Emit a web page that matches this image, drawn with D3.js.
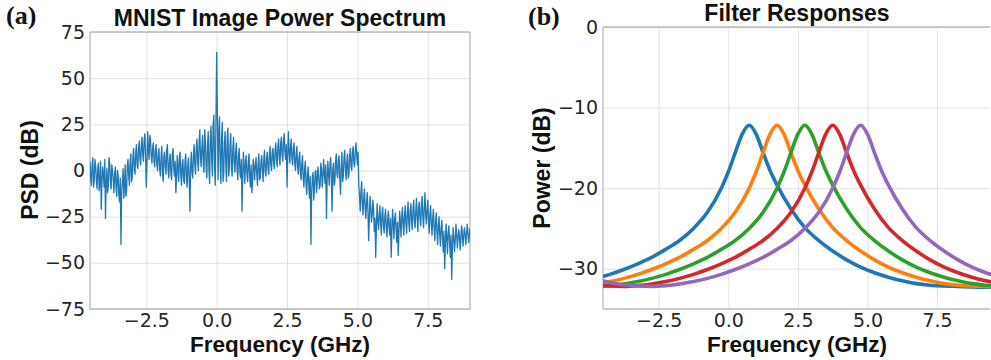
<!DOCTYPE html>
<html>
<head>
<meta charset="utf-8">
<script src="https://cdn.jsdelivr.net/npm/d3@7"></script>
<style>
  html, body { margin: 0; padding: 0; background: #fff; }
  svg { display: block; }
  .tick text { font-family: "DejaVu Sans", sans-serif; font-size: 19px; fill: #262626; }
  .lbl { font-family: "Liberation Sans", Arial, sans-serif; font-weight: bold; font-size: 23px; fill: #111; }
  .xlbl { font-size: 22.5px; }
  .tag { font-family: "Liberation Serif", "Times New Roman", serif; font-weight: bold; font-size: 26px; fill: #111; }
</style>
</head>
<body>
<svg id="chart" width="991" height="360"></svg>
<script>
// ---- (a) MNIST Image Power Spectrum : PSD samples every 0.05 GHz from -4.5 GHz ----
const psdStart = -4.5;
const psdStep = 0.05;
const psdValues = [
  5, -8, 7, -6, 3, -10, 4, -7, -21, 2, -9, -26, 1, -8, 4, -10, 0,          // -4.50 .. -3.70
  -12, 2, -14, -3, -17, -40, -6, -15, 3, -11,                               // -3.65 .. -3.20
  6, -8, 9, -4, 12, -2, 14, 1, 16, 3, 18, 5, 20, -9, 21, 6, 17, 4,          // -3.15 .. -2.30
  15, 2, 14, 0, 12, -3, 13, -6, 10, -2, 14, -4, 9, -5, 12, -3, -12, 8, -6, 10, -8, 6,  // -2.25 .. -1.20
  -7, 9, -9, 7, -22, 10, -4, 14, -2, 17, 0, 22, 2,                          // -1.15 .. -0.55
  19, -1, 16, -4, 21, -7, 24, -3, 30, -8, 64, -5, 29, -7, 26, -2, 21, -6, 23, 1, 20,  // -0.50 .. 0.50
  -3, 18, -1, 15, -5, 12, -4, -22, 10, -7, 8, -6, 9, -9, -12, 6,            // 0.55 .. 1.30
  -5, 7, -8, 9, -4, 8, -6, 11, -3, 10, -2, 13, 0, 12, 1, 15, 2, 17, 3, 18, 5, 20,  // 1.35 .. 2.40
  6, -9, 21, 4, 17, 3, 15, 0, 13, -2, 10, -5, 8, -9, 5, -13, 2,             // 2.45 .. 3.25
  -15, -40, -4, -16, -1, -12, 2, -10, 4, -9,                                // 3.30 .. 3.75
  6, -7, -26, 5, -8, 7, -22, 4, -6, 9, -4, 8, -13, 10, -3, 11, -5, 9, -2, 12, 0, 13, 2, 15,  // 3.80 .. 4.95
  3, -8, -22, -6, -24, -10, -26, -12, -38, -14, -28, -16, -33, -47, -18, -32, -19, -35, -20, -34,  // 5.00 .. 5.95
  -21, -36, -22, -35, -47, -21, -37, -23, -39, -46, -22, -36, -20, -35, -19, -34, -17, -33, -18,  // 6.00 .. 6.90
  -32, -16, -31, -15, -33, -17, -30, -14, -31, -12, -29, -16, -34, -19,     // 6.95 .. 7.60
  -35, -21, -38, -23, -40, -25, -41, -27, -44, -53, -29, -45, -30, -47, -59, -31, -44, -29, -42, -32, -43, -30, -41, -31, -40, -29, -39, -31  // 7.65 .. 9.00
];
// 중간 샘플 (각 샘플 사이 +0.025 GHz 지점)
const psdValuesMid = [
  -4, 3, -9, 6, -5, 1, -11, 5, -6, -3, 6, -7, -12, 7, -6, 3, -5,            // -4.475 .. -3.675
  -2, -9, 0, -13, -4, -11, 1, -8, -14, 2,                                   // -3.625 .. -3.175
  -3, 5, -6, 8, 0, 10, 3, 12, 6, 14, 8, 17, 9, 4, 11, 19, 8, 12,            // -3.125 .. -2.275
  5, 11, 3, 9, 1, 7, -1, 8, 2, 11, 0, 6, -2, 9, 2, 5, -4, 1, 7, -3, 4, -5,  // -2.225 .. -1.175
  5, -4, 3, -6, 2, -1, 9, 3, 12, 5, 15, 7, 13,                              // -1.125 .. -0.525
  4, 22, 2, 14, 0, 18, 5, 25, 2, 27, 31, 20, 4, 17, -6, 15, 3, 18, -3, 14, 2,  // -0.475 .. 0.525
  12, 4, 10, 1, 8, -1, 6, -3, 2, 5, -2, 4, -4, 3, -6, 2,                    // 0.575 .. 1.325
  3, -2, 4, -5, 5, 0, 6, -1, 7, 1, 9, 3, 10, 4, 11, 6, 13, 7, 15, 8, 16, 10,  // 1.375 .. 2.425
  14, 8, 10, 13, 6, 12, 4, 9, 2, 7, -1, 4, -4, 1, -7, -2, -9,               // 2.475 .. 3.275
  -3, -12, -1, -10, 0, -6, -3, -8, 1, -4,                                   // 3.325 .. 3.775
  -1, 3, -5, -2, 3, -4, 1, -8, 5, -2, 6, -5, 2, -6, 7, 0, 5, -4, 8, 2, 10, 4, 11, 8,  // 3.825 .. 4.975
  10, -14, -12, -18, -15, -20, -17, -22, -25, -20, -24, -21, -26, -30, -27, -24, -29, -23, -30, -25,  // 5.025 .. 5.975
  -30, -27, -31, -26, -33, -29, -26, -32, -28, -34, -28, -25, -30, -24, -29, -23, -28, -22, -27,  // 6.025 .. 6.925
  -21, -27, -22, -26, -20, -26, -19, -25, -20, -24, -21, -27, -24, -29,     // 6.975 .. 7.625
  -26, -31, -28, -33, -30, -35, -31, -37, -33, -40, -36, -34, -39, -35, -42, -36, -38, -34, -37, -35, -38, -33, -36, -34, -35, -33, -36  // 7.675 .. 8.975
];

const psdXTicks = [-2.5, 0, 2.5, 5, 7.5];
const psdYTicks = [-75, -50, -25, 0, 25, 50, 75];

// ---- (b) Filter Responses : one response shape (offset GHz, dB) and filter centers ----
const filterCenters = [0.75, 1.75, 2.75, 3.75, 4.75];
const filterColors = ["#1f77b4", "#ff7f0e", "#2ca02c", "#d62728", "#9467bd"];
const profileOffset = [-9.5, -9, -8.5, -8, -7.5, -7, -6.5, -6, -5.5, -5, -4.5, -4, -3.5, -3, -2.5, -2, -1.5, -1, -0.75, -0.5, -0.25,
  0, 0.25, 0.5, 0.75, 1, 1.5, 2, 2.5, 3, 3.5, 4, 4.5, 5, 5.5, 6, 6.5, 7, 7.5, 8, 9];
const profileDb = [-31.3, -31.7, -32.0, -32.15, -32.2, -32.1, -31.9, -31.6, -31.2, -30.7, -30.1, -29.4, -28.6, -27.6, -26.5, -25.0, -23.0, -20.0, -18.0, -15.6, -13.3,
  -12.2, -13.3, -15.6, -17.8, -19.6, -22.6, -24.9, -26.5, -27.8, -28.9, -29.8, -30.5, -31.05, -31.5, -31.85, -32.05, -32.15, -32.2, -32.25, -32.3];

const filterXTicks = [-2.5, 0, 2.5, 5, 7.5];
const filterYTicks = [0, -10, -20, -30];

const svg = d3.select("#chart");
const defs = svg.append("defs");

// 패널 공통: 그리드 + 축 + 테두리
function drawFrame(g, x, y, xTicks, yTicks, yFmt, spines) {
  const [x0, x1] = x.range();
  const [y1, y0] = y.range();
  const w = x1 - x0, h = y1 - y0;

  const xa = g.append("g")
    .attr("transform", `translate(0,${y1})`)
    .call(d3.axisBottom(x).tickValues(xTicks).tickFormat(d3.format(".1f"))
      .tickSizeInner(-h).tickSizeOuter(0).tickPadding(4));
  const ya = g.append("g")
    .attr("transform", `translate(${x0},0)`)
    .call(d3.axisLeft(y).tickValues(yTicks).tickFormat(yFmt)
      .tickSizeInner(-w).tickSizeOuter(0).tickPadding(5));
  [xa, ya].forEach(a => {
    a.select(".domain").remove();
    a.selectAll(".tick line").attr("stroke", "#e2e2e2").attr("stroke-width", 1);
  });

  const sp = g.append("g").attr("stroke", "#b8b8b8").attr("stroke-width", 1.3).attr("fill", "none");
  if (spines.left) sp.append("line").attr("x1", x0).attr("x2", x0).attr("y1", y0).attr("y2", y1);
  if (spines.bottom) sp.append("line").attr("x1", x0).attr("x2", x1).attr("y1", y1).attr("y2", y1);
  if (spines.top) sp.append("line").attr("x1", x0).attr("x2", x1).attr("y1", y0).attr("y2", y0);
  if (spines.right) sp.append("line").attr("x1", x1).attr("x2", x1).attr("y1", y0).attr("y2", y1);
}

// ===== (a) =====
const xA = d3.scaleLinear().domain([-4.5, 9]).range([90, 470]);
const yA = d3.scaleLinear().domain([-75, 75]).range([309, 32]);
const gA = svg.append("g");
drawFrame(gA, xA, yA, psdXTicks, psdYTicks, d3.format("d"), { left: true, bottom: true, top: true, right: true });

defs.append("clipPath").attr("id", "clipA").append("rect")
  .attr("x", 90).attr("y", 32).attr("width", 380).attr("height", 277);

// 샘플 + 중간 샘플을 주파수 순서대로 합침
const psdPoints = [];
psdValues.forEach((v, i) => {
  const f = psdStart + i * psdStep;
  psdPoints.push([f, v]);
  if (i < psdValuesMid.length) psdPoints.push([f + psdStep / 2, psdValuesMid[i]]);
});

gA.append("path")
  .datum(psdPoints)
  .attr("clip-path", "url(#clipA)")
  .attr("fill", "none")
  .attr("stroke", "#1f77b4")
  .attr("stroke-width", 1.3)
  .attr("stroke-linejoin", "round")
  .attr("d", d3.line().x(d => xA(d[0])).y(d => yA(d[1])));

gA.append("text").attr("class", "lbl").attr("x", 280).attr("y", 26).attr("text-anchor", "middle")
  .text("MNIST Image Power Spectrum");
gA.append("text").attr("class", "lbl xlbl").attr("x", 280).attr("y", 352).attr("text-anchor", "middle")
  .text("Frequency (GHz)");
gA.append("text").attr("class", "lbl").attr("transform", "translate(38,170) rotate(-90)").attr("text-anchor", "middle")
  .text("PSD (dB)");
gA.append("text").attr("class", "tag").attr("x", 6).attr("y", 24).text("(a)");

// ===== (b) =====
const xB = d3.scaleLinear().domain([-4.5, 9.4]).range([603, 990]);
const yB = d3.scaleLinear().domain([-35, 0]).range([309, 27]);
const gB = svg.append("g");
drawFrame(gB, xB, yB, filterXTicks, filterYTicks, d3.format("d"), { left: true, bottom: true, top: true, right: false });

defs.append("clipPath").attr("id", "clipB").append("rect")
  .attr("x", 603).attr("y", 27).attr("width", 390).attr("height", 282);

const lineB = d3.line().x(d => xB(d[0])).y(d => yB(d[1])).curve(d3.curveMonotoneX);
filterCenters.forEach((c, k) => {
  const pts = profileOffset.map((o, i) => [c + o, profileDb[i]])
    .filter(p => p[0] >= -5.5 && p[0] <= 10.5);
  gB.append("path")
    .datum(pts)
    .attr("clip-path", "url(#clipB)")
    .attr("fill", "none")
    .attr("stroke", filterColors[k])
    .attr("stroke-width", 3.6)
    .attr("stroke-linecap", "round")
    .attr("d", lineB);
});

gB.append("text").attr("class", "lbl").attr("x", 797).attr("y", 21).attr("text-anchor", "middle")
  .text("Filter Responses");
gB.append("text").attr("class", "lbl xlbl").attr("x", 797).attr("y", 352).attr("text-anchor", "middle")
  .text("Frequency (GHz)");
gB.append("text").attr("class", "lbl").attr("transform", "translate(550,168) rotate(-90)").attr("text-anchor", "middle")
  .text("Power (dB)");
gB.append("text").attr("class", "tag").attr("x", 528).attr("y", 25).text("(b)");
</script>
</body>
</html>
